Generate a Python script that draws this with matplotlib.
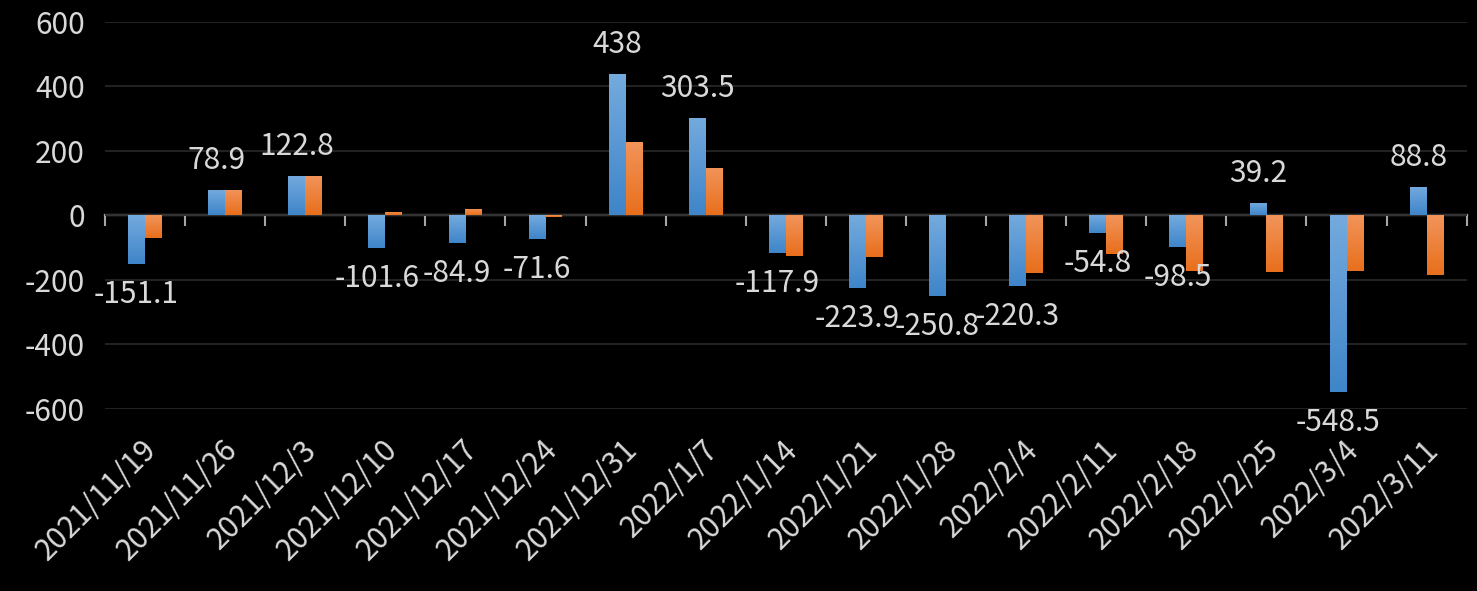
import numpy as np
import matplotlib.pyplot as plt
import matplotlib.transforms as mtransforms

plt.rcParams['font.family'] = ['Noto Sans CJK TC', 'DejaVu Sans']
plt.rcParams['axes.unicode_minus'] = False

# Weekly dates (x categories)
dates = ['2021/11/19', '2021/11/26', '2021/12/3', '2021/12/10', '2021/12/17',
         '2021/12/24', '2021/12/31', '2022/1/7', '2022/1/14', '2022/1/21',
         '2022/1/28', '2022/2/4', '2022/2/11', '2022/2/18', '2022/2/25',
         '2022/3/4', '2022/3/11']

# Blue series (labelled)
blue_vals = [-151.1, 78.9, 122.8, -101.6, -84.9, -71.6, 438, 303.5, -117.9,
             -223.9, -250.8, -220.3, -54.8, -98.5, 39.2, -548.5, 88.8]

# Orange series
orange_vals = [-70, 78.9, 122.8, 12, 21, -5, 229, 146, -126,
               -129, 0, -180, -120, -173, -176, -173, -185]

y_ticks = [-600, -400, -200, 0, 200, 400, 600]

text_color = '#d9d9d9'
blue_top, blue_bot = '#74aade', '#3f85c9'
orange_top, orange_bot = '#f2945a', '#e86f1c'

fig = plt.figure(figsize=(14.77, 5.91), dpi=100, facecolor='black')
ax = fig.add_axes([0.071, 0.308, 0.922, 0.655])
ax.set_facecolor('black')

x = np.arange(len(dates))
w = 0.21
bars_b = ax.bar(x - w / 2, blue_vals, w, color=blue_bot, zorder=2)
bars_o = ax.bar(x + w / 2, orange_vals, w, color=orange_bot, zorder=2)

# vertical gradient fill on each bar (lighter at the top)
def shade(bars, c_top, c_bot):
    top = np.array(plt.matplotlib.colors.to_rgb(c_top))
    bot = np.array(plt.matplotlib.colors.to_rgb(c_bot))
    grad = np.linspace(0, 1, 64)[:, None]
    img = top[None, None, :] * (1 - grad[:, :, None]) + bot[None, None, :] * grad[:, :, None]
    for b in bars:
        x0, y0 = b.get_x(), b.get_y()
        y1 = y0 + b.get_height()
        lo, hi = min(y0, y1), max(y0, y1)
        if hi - lo <= 0:
            continue
        im = ax.imshow(img, extent=[x0, x0 + b.get_width(), lo, hi],
                       aspect='auto', origin='upper', zorder=2.5, interpolation='bilinear')
        im.set_clip_path(b)

shade(bars_b, blue_top, blue_bot)
shade(bars_o, orange_top, orange_bot)

ax.set_xlim(-0.5, len(dates) - 0.5)
ax.set_ylim(-600, 600)
ax.set_yticks(y_ticks)
ax.set_yticklabels([str(v) for v in y_ticks])
ax.yaxis.grid(True, color='#262626', linewidth=1.3, zorder=0)
ax.set_axisbelow(True)

for s in ax.spines.values():
    s.set_visible(False)

ax.tick_params(axis='y', length=0, pad=20 / 1.389, labelsize=21.5, labelcolor=text_color)
ax.tick_params(axis='x', length=0, labelsize=21.5, labelcolor=text_color)
ax.set_xticks(x)
ax.set_xticklabels(dates, rotation=45, ha='right', va='center', rotation_mode='anchor')
offset = mtransforms.ScaledTranslation(7 / 100, -31 / 100, fig.dpi_scale_trans)
for lab in ax.get_xticklabels():
    lab.set_transform(lab.get_transform() + offset)

# zero line with category tick marks
secax = ax.secondary_xaxis(0.5)
secax.set_xticks(np.arange(-0.5, len(dates), 1.0))
secax.xaxis.set_ticks_position('bottom')
secax.tick_params(axis='x', direction='out', length=11 / 1.389, width=1.5,
                  color='#a6a6a6', labelbottom=False, labeltop=False)
for name, s in secax.spines.items():
    s.set_visible(name == 'bottom')
secax.spines['bottom'].set_color('#a6a6a6')
secax.spines['bottom'].set_linewidth(1.6)

# data labels for blue series
for xi, v in zip(x, blue_vals):
    dy = 21 if v >= 0 else -39
    ax.annotate(f'{v:g}', (xi - w / 2, v), xytext=(0, dy / 1.389),
                textcoords='offset points', ha='center', va='baseline',
                fontsize=21.5, color=text_color, zorder=5)

fig.savefig('out.png', dpi=100, facecolor='black')
